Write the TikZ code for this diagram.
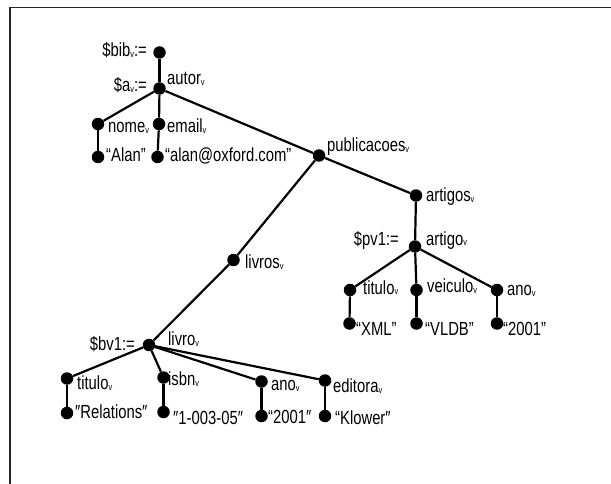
\documentclass[tikz,border=0pt]{standalone}
\usepackage{fontspec}
\setmainfont{Liberation Sans}[FakeStretch=0.78]
\newcommand\vsub{\raisebox{-1pt}{\fontsize{9.5}{9.5}\selectfont v}}
\begin{document}
\begin{tikzpicture}[x=1pt,y=-1pt,
  dot/.style={circle,fill=black,inner sep=0pt,minimum size=12.5pt},
  lbl/.style={anchor=base west,inner sep=0pt,font=\fontsize{19}{19}\selectfont},
  llbl/.style={anchor=base east,inner sep=0pt,font=\fontsize{19}{19}\selectfont},
  link/.style={line width=2.2pt},
  frame/.style={line width=1.6pt,black!85}]
\useasboundingbox (0,0) rectangle (611,484);
% frame
\coordinate (fl) at (10,484);
\coordinate (fc) at (10,7.5);
\coordinate (fr) at (611,7.5);
\draw[frame] (fl) -- (fc) -- (fr);

% tree nodes
\node[dot] (bib) at (159.5,52.5) {};
\node[dot] (autor) at (159.5,88.5) {};
\node[dot] (nome) at (98,124) {};
\node[dot] (email) at (159,124) {};
\node[dot] (alan) at (98,157) {};
\node[dot] (mail) at (157.5,157) {};
\node[dot] (pub) at (319,155.5) {};
\node[dot] (artigos) at (416,195.5) {};
\node[dot] (artigo) at (415,246.5) {};
\node[dot] (ptit) at (350,290) {};
\node[dot] (pvei) at (416.5,290) {};
\node[dot] (pano) at (497,290) {};
\node[dot] (pxml) at (349.5,323.5) {};
\node[dot] (pvldb) at (416.5,323.5) {};
\node[dot] (p2001) at (497,323.5) {};
\node[dot] (livros) at (233.5,260) {};
\node[dot] (livro) at (149,345) {};
\node[dot] (btit) at (67,378.5) {};
\node[dot] (bisbn) at (163.5,377.5) {};
\node[dot] (bano) at (261.5,381.5) {};
\node[dot] (bedi) at (325,380.5) {};
\node[dot] (brel) at (67,413) {};
\node[dot] (bnum) at (163.5,412) {};
\node[dot] (b2001) at (261.5,416) {};
\node[dot] (bklo) at (325,416) {};

% connectors
\draw[link] (bib) -- (autor);
\draw[link] (autor) -- (nome);
\draw[link] (autor) -- (email);
\draw[link] (nome) -- (alan);
\draw[link] (email) -- (mail);
\draw[link] (autor) -- (pub);
\draw[link] (pub) -- (artigos);
\draw[link] (pub) -- (livros);
\draw[link] (livros) -- (livro);
\draw[link] (artigos) -- (artigo);
\draw[link] (artigo) -- (ptit);
\draw[link] (artigo) -- (pvei);
\draw[link] (artigo) -- (pano);
\draw[link] (ptit) -- (pxml);
\draw[link] (pvei) -- (pvldb);
\draw[link] (pano) -- (p2001);
\draw[link] (livro) -- (btit);
\draw[link] (livro) -- (bisbn);
\draw[link] (livro.center) -- (bano);
\draw[link] (livro.center) -- (bedi);
\draw[link] (btit) -- (brel);
\draw[link] (bisbn) -- (bnum);
\draw[link] (bano) -- (b2001);
\draw[link] (bedi) -- (bklo);

% labels
\node[llbl] (tbib) at (147,57) {\$bib\vsub:=};
\node[llbl] (ta) at (147,92) {\$a\vsub:=};
\node[lbl] (tautor) at (167,85) {autor\vsub};
\node[lbl] (tnome) at (108,133) {nome\vsub};
\node[lbl] (temail) at (167,133) {email\vsub};
\node[lbl] (talan) at (106,162) {“Alan”};
\node[lbl] (tmail) at (165,162) {“alan@oxford.com”};
\node[lbl] (tpub) at (327,152) {publicacoes\vsub};
\node[lbl] (tartigos) at (426,202) {artigos\vsub};
\node[lbl] (tartigo) at (426,245) {artigo\vsub};
\node[llbl] (tpv) at (399,245) {\$pv1:=};
\node[lbl] (tptit) at (363,294) {titulo\vsub};
\node[lbl] (tpvei) at (427,292) {veiculo\vsub};
\node[lbl] (tpano) at (507,295) {ano\vsub};
\node[lbl] (tpxml) at (356,335) {“XML”};
\node[lbl] (tpvldb) at (425,335) {“VLDB”};
\node[lbl] (tp2001) at (503,335) {“2001”};
\node[lbl] (tlivros) at (245,269) {livros\vsub};
\node[lbl] (tlivro) at (168,345) {livro\vsub};
\node[llbl] (tbv) at (135,350) {\$bv1:=};
\node[lbl] (tbtit) at (77,389) {titulo\vsub};
\node[lbl] (tbisbn) at (168,385) {isbn\vsub};
\node[lbl] (tbano) at (271,390) {ano\vsub};
\node[lbl] (tbedi) at (333,392) {editora\vsub};
\node[lbl] (tbrel) at (75,418) {″Relations″};
\node[lbl] (tbnum) at (173,424) {″1-003-05″};
\node[lbl] (tb2001) at (268,423) {“2001″};
\node[lbl] (tbklo) at (335,424) {“Klower″};
\end{tikzpicture}
\end{document}
